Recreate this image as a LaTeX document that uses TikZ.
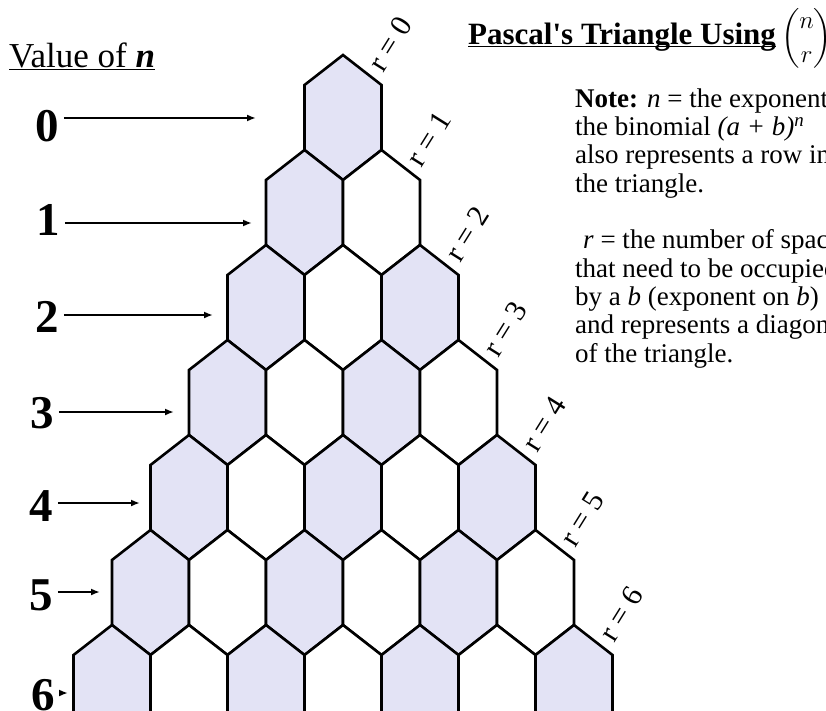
\documentclass[tikz,border=0pt]{standalone}
\usepackage{amsmath}
\usepackage{fontspec}
\setmainfont{Liberation Serif}
\usetikzlibrary{arrows.meta,calc}
\definecolor{HexClr}{rgb}{0.89,0.89,0.96}
\newcommand{\ulbar}[1]{\setbox0\hbox{#1}\rlap{\rule[-2.5pt]{\wd0}{1.4pt}}\box0}

\begin{document}
\begin{tikzpicture}[x=1pt,y=-1pt,
  hexline/.style={line width=2.6pt,draw=black},
  rowarrow/.style={line width=2pt,-{Latex[length=9pt,width=7pt]}},
  rownum/.style={font=\fontsize{47}{47}\selectfont\bfseries,inner xsep=5pt,inner ysep=0pt},
  rlabel/.style={font=\fontsize{30}{30}\selectfont,rotate=58,inner sep=0pt},
  notetext/.style={font=\fontsize{27}{28.33}\selectfont,align=left,anchor=base west,inner sep=0pt}]
\useasboundingbox (0,0) rectangle (826,711);
\clip (0,0) rectangle (826,711);

% hexagons: row n, place k
\foreach \n in {0,...,6}{
  \foreach \k in {0,...,\n}{
    \pgfmathsetmacro{\cx}{343-38.5*\n+77*\k}
    \pgfmathsetmacro{\ty}{55+95*\n}
    \pgfmathtruncatemacro{\odd}{mod(\k,2)}
    \ifnum\odd=0 \def\hexfill{HexClr}\else\def\hexfill{white}\fi
    \draw[hexline,fill=\hexfill] (\cx,\ty) -- ++(38.5,30) -- ++(0,65) -- ++(-38.5,30)
      -- ++(-38.5,-30) -- ++(0,-65) -- cycle;
  }
}

% diagonals r = k
\foreach \k in {0,...,6}
  \node[rlabel] (r\k) at ({390+38.5*\k},{44+95*\k}) {r = \k};

% headings
\node[anchor=base west,inner sep=0pt,font=\fontsize{35}{35}\selectfont] (valn) at (9,68)
  {\ulbar{Value of \textbf{\textit{n}}}};
\node[anchor=base west,inner sep=0pt,font=\fontsize{31}{31}\selectfont] (title) at (468,45)
  {\ulbar{\textbf{Pascal\textquotesingle s Triangle Using}}\,{\fontsize{24}{24}\selectfont$\displaystyle\binom{n}{r}$}};

% last line sits on the base anchor
\node[notetext] (note) at (575,362) {\textbf{Note:} \textit{n} = the exponent on\\
  the binomial \textit{(a + b)\textsuperscript{n}}\\
  also represents a row in\\
  the triangle.\\[28.33pt]
  \hspace{8pt}\textit{r} = the number of spaces\\
  that need to be occupied\\
  by a \textit{b} (exponent on \textit{b})\\
  and represents a diagonal\\
  of the triangle.};

% values of n
\node[rownum] (n0) at (47,126) {0};
\node[rownum] (n1) at (48,220) {1};
\node[rownum] (n2) at (47,317) {2};
\node[rownum] (n3) at (42,413) {3};
\node[rownum] (n4) at (41,506) {4};
\node[rownum] (n5) at (41,595) {5};
\node[rownum] (n6) at (43,695) {6};

\coordinate (e0) at (256,118);
\coordinate (e1) at (252,223);
\coordinate (e2) at (213,315);
\coordinate (e3) at (174,412);
\coordinate (e4) at (140,503);
\coordinate (e5) at (100,592);
\coordinate (e6) at (68,693);

\draw[rowarrow] (n0.east |- e0) -- (e0);
\draw[rowarrow] (n1.east |- e1) -- (e1);
\draw[rowarrow] (n2.east |- e2) -- (e2);
\draw[rowarrow] (n3.east |- e3) -- (e3);
\draw[rowarrow] (n4.east |- e4) -- (e4);
\draw[rowarrow] (n5.east |- e5) -- (e5);
\draw[rowarrow] (n6.east |- e6) -- (e6);

\end{tikzpicture}
\end{document}
